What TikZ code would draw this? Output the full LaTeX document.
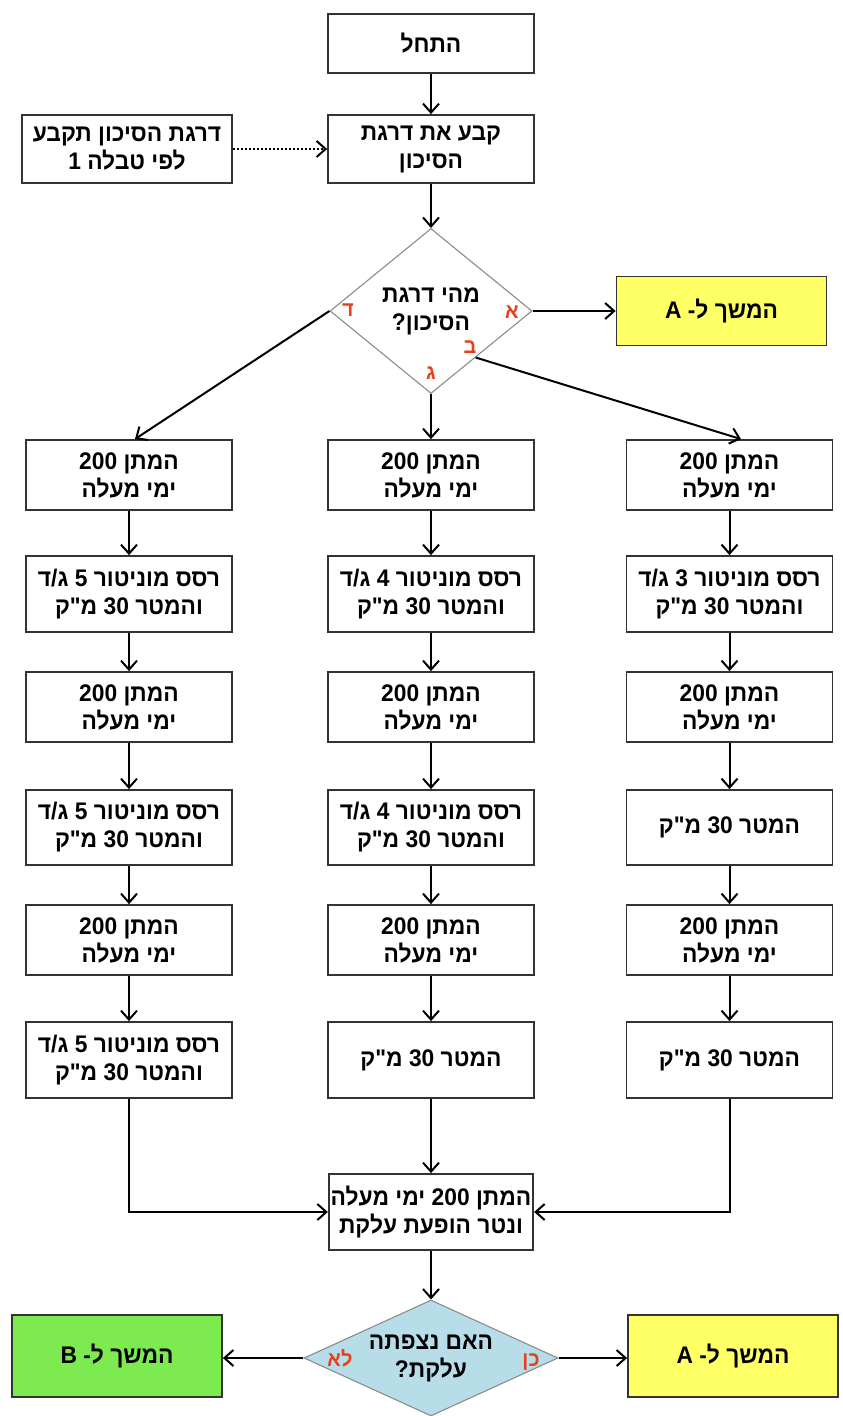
\documentclass[tikz,border=0pt]{standalone}
\usepackage{fontspec}
\usetikzlibrary{arrows.meta,shapes.geometric,calc}
\TeXXeTstate=1
\newfontfamily\heb[Script=Hebrew,FakeStretch=0.95]{Liberation Sans}
\definecolor{boxline}{HTML}{333333}
\definecolor{diaedge}{HTML}{8C8C8C}
\definecolor{diablue}{HTML}{B7DEE8}
\definecolor{contyellow}{HTML}{FFFF66}
\definecolor{contgreen}{HTML}{7DEB4F}
\definecolor{lblred}{HTML}{E8401C}
\newcommand{\rl}[1]{\beginR #1\endR}
\tikzset{
  txt/.style={font=\heb\bfseries\fontsize{24}{28}\selectfont, align=center, text=black},
  box/.style={txt, draw=boxline, line width=1.8pt, fill=white, inner sep=2pt,
              minimum width=206pt},
  decide/.style={diamond, draw=diaedge, line width=1.1pt, inner sep=0pt},
  lbl/.style={font=\heb\bfseries\fontsize{21}{23}\selectfont, text=lblred, inner sep=0pt},
  arr/.style={line width=2pt, -{Straight Barb[length=9pt,width=16pt]}},
}
\begin{document}
\begin{tikzpicture}[x=1pt,y=-1pt]
\fill[white] (0,0) rectangle (843,1416);
\useasboundingbox (0,0) rectangle (843,1416);

% top of the chart
\node[box, minimum height=59pt] (start) at (431,43.5) {\rl{התחל}};
\node[box, minimum height=68pt] (setrisk) at (431,149) {\rl{קבע את דרגת}\\\rl{הסיכון}};
\node[box, minimum height=68pt, minimum width=210pt] (table) at (127,149)
  {\rl{דרגת הסיכון תקבע}\\\rl{לפי טבלה 1}};
\node[decide, minimum width=202pt, minimum height=165pt] (q1) at (431,311) {};
\node[txt] (q1text) at (q1.center) {\rl{מהי דרגת}\\\rl{הסיכון?}};
\node[box, minimum height=69pt, minimum width=210pt, fill=contyellow] (contA1) at (721.5,311)
  {\rl{המשך ל- A}};

% branch labels of the first decision
\node[lbl] (ld) at (348,310) {\rl{ד}};
\node[lbl] (la) at (512,312) {\rl{א}};
\node[lbl] (lb) at (470,347) {\rl{ב}};
\node[lbl] (lg) at (431,373) {\rl{ג}};

% left column
\node[box, minimum height=70pt] (L1) at (129,475) {\rl{המתן 200}\\\rl{ימי מעלה}};
\node[box, minimum height=76pt] (L2) at (129,594) {\rl{רסס מוניטור 5 ג/ד}\\\rl{והמטר 30 מ"ק}};
\node[box, minimum height=70pt] (L3) at (129,707) {\rl{המתן 200}\\\rl{ימי מעלה}};
\node[box, minimum height=75pt] (L4) at (129,827.5) {\rl{רסס מוניטור 5 ג/ד}\\\rl{והמטר 30 מ"ק}};
\node[box, minimum height=70pt] (L5) at (129,940) {\rl{המתן 200}\\\rl{ימי מעלה}};
\node[box, minimum height=76pt] (L6) at (129,1060) {\rl{רסס מוניטור 5 ג/ד}\\\rl{והמטר 30 מ"ק}};

% middle column
\node[box, minimum height=70pt] (M1) at (431,475) {\rl{המתן 200}\\\rl{ימי מעלה}};
\node[box, minimum height=76pt] (M2) at (431,594) {\rl{רסס מוניטור 4 ג/ד}\\\rl{והמטר 30 מ"ק}};
\node[box, minimum height=70pt] (M3) at (431,707) {\rl{המתן 200}\\\rl{ימי מעלה}};
\node[box, minimum height=75pt] (M4) at (431,827.5) {\rl{רסס מוניטור 4 ג/ד}\\\rl{והמטר 30 מ"ק}};
\node[box, minimum height=70pt] (M5) at (431,940) {\rl{המתן 200}\\\rl{ימי מעלה}};
\node[box, minimum height=76pt] (M6) at (431,1060) {\rl{המטר 30 מ"ק}};

% right column
\node[box, minimum height=70pt] (R1) at (729.5,475) {\rl{המתן 200}\\\rl{ימי מעלה}};
\node[box, minimum height=76pt] (R2) at (729.5,594) {\rl{רסס מוניטור 3 ג/ד}\\\rl{והמטר 30 מ"ק}};
\node[box, minimum height=70pt] (R3) at (729.5,707) {\rl{המתן 200}\\\rl{ימי מעלה}};
\node[box, minimum height=75pt] (R4) at (729.5,827.5) {\rl{המטר 30 מ"ק}};
\node[box, minimum height=70pt] (R5) at (729.5,940) {\rl{המתן 200}\\\rl{ימי מעלה}};
\node[box, minimum height=76pt] (R6) at (729.5,1060) {\rl{המטר 30 מ"ק}};

% merge and final decision
\node[box, minimum height=76pt, minimum width=204pt] (merge) at (431,1212)
  {\rl{המתן 200 ימי מעלה}\\\rl{ונטר הופעת עלקת}};
\node[decide, fill=diablue, minimum width=254pt, minimum height=116pt] (q2) at (431,1358) {};
\node[txt] (q2text) at (q2.center) {\rl{האם נצפתה}\\\rl{עלקת?}};
\node[box, minimum height=82pt, minimum width=210pt, fill=contgreen] (contB) at (117,1356)
  {\rl{המשך ל- B}};
\node[box, minimum height=82pt, minimum width=210pt, fill=contyellow] (contA2) at (733,1356)
  {\rl{המשך ל- A}};
\node[lbl] (lno) at (340,1358) {\rl{לא}};
\node[lbl] (lyes) at (531,1362) {\rl{כן}};

% connectors
\draw[arr] (start) -- (setrisk);
\draw[arr, dotted] (table) -- (setrisk);
\draw[arr] (setrisk) -- (q1.north);
\draw[arr] (q1.east) -- (contA1);
\draw[arr] (q1.west) -- ($(L1.north)+(6,0)$);
\draw[arr] (q1.south) -- (M1.north);
\draw[arr] ($(q1.east)!0.56!(q1.south)$) -- ($(R1.north)+(11.5,0)$);
\foreach \c in {L,M,R}{
  \draw[arr] (\c1) -- (\c2);
  \draw[arr] (\c2) -- (\c3);
  \draw[arr] (\c3) -- (\c4);
  \draw[arr] (\c4) -- (\c5);
  \draw[arr] (\c5) -- (\c6);
}
\draw[arr] (M6) -- (merge);
\draw[arr] (L6.south) |- (merge.west);
\draw[arr] (R6.south) |- (merge.east);
\draw[arr] (merge) -- (q2.north);
\draw[arr] (q2.west) -- (contB.east |- q2.west);
\draw[arr] (q2.east) -- (contA2.west |- q2.east);
\end{tikzpicture}
\end{document}
